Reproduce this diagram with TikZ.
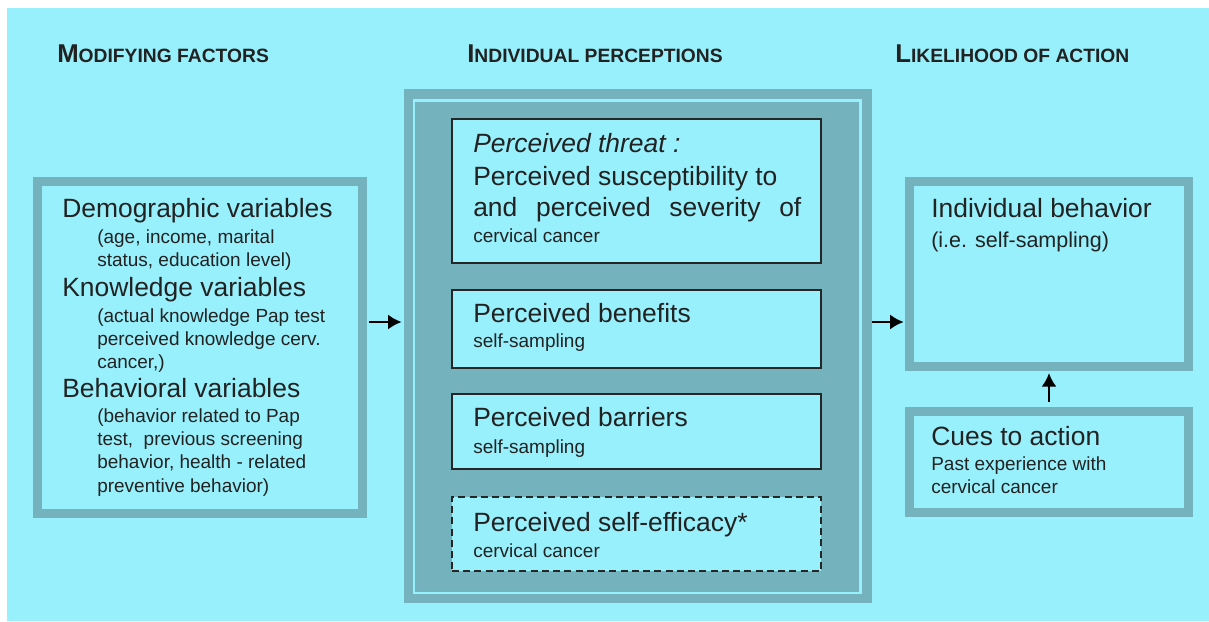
\documentclass[tikz,border=0pt]{standalone}
\usepackage{fontspec}
\setmainfont{Liberation Sans}
\usetikzlibrary{arrows.meta}

\definecolor{hbmcyan}{RGB}{152,240,252}
\definecolor{hbmteal}{RGB}{116,179,189}
\definecolor{hbmtext}{RGB}{34,34,34}

% font sizes
\newcommand{\bigtxt}{\fontsize{18.8pt}{22pt}\selectfont}
\newcommand{\smltxt}{\fontsize{13.5pt}{16pt}\selectfont}
\newcommand{\midtxt}{\fontsize{15.3pt}{18pt}\selectfont}
\newcommand{\hdrtxt}{\fontsize{13.7pt}{16pt}\selectfont\bfseries}
\newcommand{\hcap}[1]{{\fontsize{18.3pt}{20pt}\selectfont #1}}

\begin{document}
\begin{tikzpicture}[x=0.025cm, y=-0.025cm,
    txt/.style={anchor=base west, inner sep=0pt, text=hbmtext},
    big/.style={txt, font=\bigtxt},
    sml/.style={txt, font=\smltxt},
    hdr/.style={txt, font=\hdrtxt},
    outerbox/.style={draw=hbmteal, line width=2.25mm, fill=hbmcyan, inner sep=0pt},
    innerbox/.style={draw=black!85, line width=0.8pt, fill=hbmcyan, inner sep=0pt, minimum width=9.225cm},
    arr/.style={-{Latex[length=3.4mm, width=3.8mm]}, line width=2.1pt, black}]

    % Page and background
    \useasboundingbox (0,0) rectangle (1209,621);
    \fill[white] (0,0) rectangle (1209,621);
    \fill[hbmcyan] (7,8) rectangle (1209,621);

    % Column headers
    \node[hdr] (hmod) at (57,62) {\hcap{M}ODIFYING FACTORS};
    \node[hdr] (hind) at (467,62) {\hcap{I}NDIVIDUAL PERCEPTIONS};
    \node[hdr] (hlik) at (895,62) {\hcap{L}IKELIHOOD OF ACTION};

    % Modifying factors
    \node[outerbox, minimum width=8.125cm, minimum height=8.3cm] (modif) at (200,347.5) {};
    \node[big] (dem) at (62,217) {Demographic variables};
    \node[sml] (dem1) at (97,243) {(age, income, marital};
    \node[sml] (dem2) at (97,266) {status, education level)};
    \node[big] (kno) at (62,296) {Knowledge variables};
    \node[sml] (kno1) at (97,322) {(actual knowledge Pap test};
    \node[sml] (kno2) at (97,345) {perceived knowledge cerv.};
    \node[sml] (kno3) at (97,368) {cancer,)};
    \node[big] (beh) at (62,397) {Behavioral variables};
    \node[sml] (beh1) at (97,422) {(behavior related to Pap};
    \node[sml] (beh2) at (97,445) {test,\ \ previous screening};
    \node[sml] (beh3) at (97,468) {behavior, health - related};
    \node[sml] (beh4) at (97,492) {preventive behavior)};

    % Individual perceptions
    \node[fill=hbmteal, inner sep=0pt, minimum width=11.7cm, minimum height=12.85cm] (percep) at (638,346) {};
    \draw[hbmcyan, line width=0.0625cm] (414,100.5) rectangle (860.5,593);

    \node[innerbox, minimum height=3.6cm] (threat) at (636.5,191) {};
    \node[big, font=\bigtxt\itshape] (thr1) at (473,152) {Perceived threat :};
    \node[big] (thr2) at (473,185) {Perceived susceptibility to};
    \node[big] (thr3) at (473,216) {\makebox[8.2cm][s]{and perceived severity of}};
    \node[sml] (thr4) at (473,242) {cervical cancer};

    \node[innerbox, minimum height=1.95cm] (benef) at (636.5,329) {};
    \node[big] (ben1) at (473,322) {Perceived benefits};
    \node[sml] (ben2) at (473,347) {self-sampling};

    \node[innerbox, minimum height=1.875cm] (barr) at (636.5,431.5) {};
    \node[big] (bar1) at (473,426) {Perceived barriers};
    \node[sml] (bar2) at (473,453) {self-sampling};

    \node[innerbox, dash pattern=on 5pt off 3pt, minimum height=1.85cm] (effic) at (636.5,534) {};
    \node[big] (eff1) at (473,531) {Perceived self-efficacy*};
    \node[sml] (eff2) at (473,557) {cervical cancer};

    % Likelihood of action
    \node[outerbox, minimum width=6.975cm, minimum height=4.625cm] (behav) at (1049,274) {};
    \node[big] (ind1) at (931,217) {Individual behavior};
    \node[txt, font=\midtxt] (ind2) at (931,247) {(i.e. self-sampling)};

    \node[outerbox, minimum width=6.975cm, minimum height=2.525cm] (cues) at (1049,462) {};
    \node[big] (cue1) at (931,445) {Cues to action};
    \node[sml] (cue2) at (931,470) {Past experience with};
    \node[sml] (cue3) at (931,493) {cervical cancer};

    % Arrows
    \coordinate (ay) at (0,322);
    \draw[arr, shorten <=0.05cm, shorten >=0.05cm] (modif.east |- ay) -- (percep.west |- ay);
    \draw[arr, shorten >=0.03cm] (percep.east |- ay) -- (behav.west |- ay);
    \draw[arr, shorten <=0.12cm, shorten >=0.05cm] (cues.north) -- (behav.south);
\end{tikzpicture}
\end{document}
